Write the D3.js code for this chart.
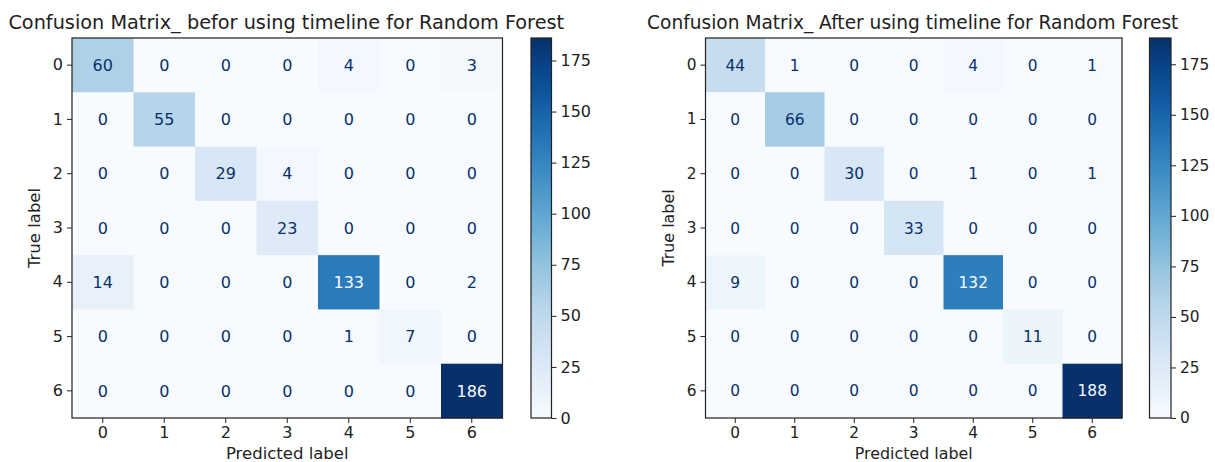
<!DOCTYPE html>
<html>
<head>
<meta charset="utf-8">
<script src="https://cdn.jsdelivr.net/npm/d3@7"></script>
<style>
  body { margin: 0; background: #fff; }
  text { font-family: "DejaVu Sans", sans-serif; fill: #222; }
</style>
</head>
<body>
<div id="chart"></div>
<script>
// class labels
const labels = [0, 1, 2, 3, 4, 5, 6]
const cbTicks = [0, 25, 50, 75, 100, 125, 150, 175]

// rows = true label, cols = predicted label
const before = [
  [60, 0, 0, 0, 4, 0, 3],
  [0, 55, 0, 0, 0, 0, 0],
  [0, 0, 29, 4, 0, 0, 0],
  [0, 0, 0, 23, 0, 0, 0],
  [14, 0, 0, 0, 133, 0, 2],
  [0, 0, 0, 0, 1, 7, 0],
  [0, 0, 0, 0, 0, 0, 186]
]
const after = [
  [44, 1, 0, 0, 4, 0, 1],
  [0, 66, 0, 0, 0, 0, 0],
  [0, 0, 30, 0, 1, 0, 1],
  [0, 0, 0, 33, 0, 0, 0],
  [9, 0, 0, 0, 132, 0, 0],
  [0, 0, 0, 0, 0, 11, 0],
  [0, 0, 0, 0, 0, 0, 188]
]

const titles = [
  'Confusion Matrix_ befor using timeline for Random Forest',
  'Confusion Matrix_ After using timeline for Random Forest'
]

const width = 1215
const height = 462

const svg = d3.select('#chart')
  .append('svg')
  .attr('width', width)
  .attr('height', height)

// the right-hand figure was pasted in slightly smaller, so its text is scaled by k
const panels = [
  { m: before, title: titles[0], x0: 72, x1: 502.5, cb0: 531, cb1: 551.5, id: 'g0', k: 1 },
  { m: after, title: titles[1], x0: 705.5, x1: 1122, cb0: 1149.5, cb1: 1171, id: 'g1', k: 0.963 }
]
const plotTop = 38, plotBottom = 418

panels.forEach(p => {
  const fs = 16 * p.k
  const vmax = d3.max(p.m.flat())
  const vmin = d3.min(p.m.flat())
  const color = d3.scaleSequential(d3.interpolateBlues).domain([vmin, vmax])
  const thresh = (vmax + vmin) / 2

  const x = d3.scaleBand().domain(labels).range([p.x0, p.x1])
  const y = d3.scaleBand().domain(labels).range([plotTop, plotBottom])

  const cells = []
  p.m.forEach((row, i) => row.forEach((v, j) => cells.push({ r: labels[i], c: labels[j], v: v })))

  const g = svg.append('g')

  g.selectAll('rect.cell')
    .data(cells)
    .enter()
    .append('rect')
    .attr('class', 'cell')
    .attr('x', d => x(d.c))
    .attr('y', d => y(d.r))
    .attr('width', x.bandwidth() + 0.5)
    .attr('height', y.bandwidth() + 0.5)
    .attr('fill', d => color(d.v))

  g.selectAll('text.val')
    .data(cells)
    .enter()
    .append('text')
    .attr('class', 'val')
    .attr('x', d => x(d.c) + x.bandwidth() / 2)
    .attr('y', d => y(d.r) + y.bandwidth() / 2)
    .attr('dy', '0.36em')
    .attr('text-anchor', 'middle')
    .attr('font-size', fs)
    .style('fill', d => d.v < thresh ? color(vmax) : color(vmin))
    .text(d => d.v)

  // frame
  g.append('rect')
    .attr('x', p.x0)
    .attr('y', plotTop)
    .attr('width', p.x1 - p.x0)
    .attr('height', plotBottom - plotTop)
    .attr('fill', 'none')
    .attr('stroke', '#222')
    .attr('stroke-width', 1.2)

  const xAxis = g.append('g')
    .attr('transform', `translate(0,${plotBottom})`)
    .call(d3.axisBottom(x).tickSize(5).tickPadding(4))
  const yAxis = g.append('g')
    .attr('transform', `translate(${p.x0},0)`)
    .call(d3.axisLeft(y).tickSize(5).tickPadding(4))
  ;[xAxis, yAxis].forEach(a => {
    a.select('.domain').remove()
    a.selectAll('line').attr('stroke', '#222')
    a.selectAll('text').attr('font-size', fs).style('fill', '#222').attr('font-family', '"DejaVu Sans", sans-serif')
  })

  g.append('text')
    .attr('x', (p.x0 + p.x1) / 2)
    .attr('y', 459)
    .attr('text-anchor', 'middle')
    .attr('font-size', 16.5 * p.k)
    .text('Predicted label')

  g.append('text')
    .attr('transform', `translate(${p.x0 - 32},${(plotTop + plotBottom) / 2}) rotate(-90)`)
    .attr('text-anchor', 'middle')
    .attr('font-size', 16.5 * p.k)
    .text('True label')

  g.append('text')
    .attr('x', (p.x0 + p.x1) / 2 - 1)
    .attr('y', 29)
    .attr('text-anchor', 'middle')
    .attr('font-size', 19.3 * p.k)
    .text(p.title)

  // colorbar
  const grad = svg.append('defs').append('linearGradient')
    .attr('id', p.id)
    .attr('x1', 0).attr('y1', 1).attr('x2', 0).attr('y2', 0)
  d3.range(0, 1.001, 0.05).forEach(t => {
    grad.append('stop').attr('offset', t).attr('stop-color', d3.interpolateBlues(t))
  })
  const cy = d3.scaleLinear().domain([vmin, vmax]).range([plotBottom, plotTop])
  g.append('rect')
    .attr('x', p.cb0)
    .attr('y', plotTop)
    .attr('width', p.cb1 - p.cb0)
    .attr('height', plotBottom - plotTop)
    .attr('fill', `url(#${p.id})`)
    .attr('stroke', '#222')
    .attr('stroke-width', 1.2)
  const cAxis = g.append('g')
    .attr('transform', `translate(${p.cb1},0)`)
    .call(d3.axisRight(cy).tickValues(cbTicks).tickSize(5).tickPadding(4))
  cAxis.select('.domain').remove()
  cAxis.selectAll('line').attr('stroke', '#222')
  cAxis.selectAll('text').attr('font-size', fs).style('fill', '#222').attr('font-family', '"DejaVu Sans", sans-serif')
})
</script>
</body>
</html>
